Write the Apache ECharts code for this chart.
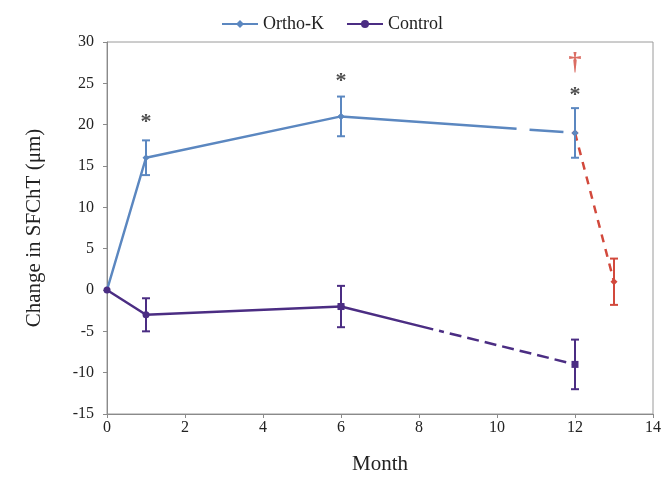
<!DOCTYPE html>
<html>
<head>
<meta charset="utf-8">
<script src="https://cdn.jsdelivr.net/npm/echarts@6/dist/echarts.min.js"></script>
<style>html,body{margin:0;padding:0;background:#fff}#c{width:664px;height:480px}</style>
</head>
<body>
<div id="c"></div>
<script>
// ---- data ----
var months = [0, 1, 6, 12];
var orthoK = [0, 16, 21, 19];
var orthoKErr = [0, 2.1, 2.4, 3];
var control = [0, -3, -2, -9];
var controlErr = [0, 2, 2.5, 3];
var washoutMonths = [12, 13];
var washout = [19, 1];
var washoutErr = [0, 2.8];
var starMonths = [1, 6, 12];
var starValues = [20.9, 25.8, 24.1];
var starText = ['*', '*', '*'];
var daggerMonths = [12];
var daggerValues = [27.7];
var daggerText = ['\u2020'];
var xTicks = [0, 2, 4, 6, 8, 10, 12, 14];
var yTicks = [-15, -10, -5, 0, 5, 10, 15, 20, 25, 30];

var BLUE = '#5b87c0', PURPLE = '#4b2d83', RED = '#d2493c';
var FONT = 'Liberation Serif';

function pts(xs, ys, from, to) {
  var out = [];
  for (var i = from; i <= to; i++) out.push([xs[i], ys[i]]);
  return out;
}
function errData(xs, ys, es) {
  var out = [];
  for (var i = 0; i < xs.length; i++) if (es[i] > 0) out.push([xs[i], ys[i] - es[i], ys[i] + es[i]]);
  return out;
}
function errSeries(data, color) {
  return {
    type: 'custom', data: data, z: 4, silent: true,
    renderItem: function (params, api) {
      var x = api.value(0);
      var lo = api.coord([x, api.value(1)]);
      var hi = api.coord([x, api.value(2)]);
      var w = 4;
      var st = { stroke: color, lineWidth: 2 };
      return { type: 'group', children: [
        { type: 'line', shape: { x1: lo[0], y1: lo[1], x2: hi[0], y2: hi[1] }, style: st },
        { type: 'line', shape: { x1: lo[0] - w, y1: lo[1], x2: lo[0] + w, y2: lo[1] }, style: st },
        { type: 'line', shape: { x1: hi[0] - w, y1: hi[1], x2: hi[0] + w, y2: hi[1] }, style: st }
      ] };
    }
  };
}
function labelSeries(xs, ys, texts, color, size, dy) {
  var d = [];
  for (var i = 0; i < xs.length; i++) d.push({ value: [xs[i], ys[i]], name: texts[i] });
  return {
    type: 'scatter', symbolSize: 0, silent: true, z: 6, data: d,
    label: { show: true, position: 'inside', formatter: '{b}', color: color, offset: [0, dy],
      fontFamily: FONT, fontSize: size, fontWeight: 'bold' }
  };
}

var chart = echarts.init(document.getElementById('c'));
chart.setOption({
  animation: false,
  backgroundColor: '#fff',
  grid: { left: 107, right: 10, top: 42, bottom: 66, show: true, borderColor: '#9a9a9a', borderWidth: 1 },
  legend: {
    top: 10, left: 'center', itemWidth: 36, itemHeight: 10, itemGap: 22,
    data: ['Ortho-K', 'Control'],
    textStyle: { fontFamily: FONT, fontSize: 18, color: '#222' }
  },
  xAxis: {
    type: 'value', min: xTicks[0], max: xTicks[xTicks.length - 1], interval: 2,
    name: 'Month', nameLocation: 'middle', nameGap: 40,
    nameTextStyle: { fontFamily: FONT, fontSize: 21, color: '#222' },
    axisLine: { onZero: false, lineStyle: { color: '#8a8a8a' } },
    axisTick: { show: true, length: 4, lineStyle: { color: '#8a8a8a' } },
    axisLabel: { fontFamily: FONT, fontSize: 16, color: '#222', margin: 6 },
    splitLine: { show: false }
  },
  yAxis: {
    type: 'value', min: yTicks[0], max: yTicks[yTicks.length - 1], interval: 5,
    name: 'Change in SFChT (\u03bcm)', nameLocation: 'middle', nameGap: 62,
    nameTextStyle: { fontFamily: FONT, fontSize: 21, color: '#222' },
    axisLine: { show: true, onZero: false, lineStyle: { color: '#8a8a8a' } },
    axisTick: { show: true, length: 4, lineStyle: { color: '#8a8a8a' } },
    axisLabel: { fontFamily: FONT, fontSize: 16, color: '#222', margin: 13 },
    splitLine: { show: false }
  },
  series: [
    errSeries(errData(months, orthoK, orthoKErr), BLUE),
    errSeries(errData(months, control, controlErr), PURPLE),
    errSeries(errData(washoutMonths, washout, washoutErr), RED),
    {
      name: 'Ortho-K', type: 'line', data: pts(months, orthoK, 0, 2), z: 3,
      color: BLUE, symbol: 'diamond', symbolSize: 7, showSymbol: true,
      lineStyle: { width: 2.5, color: BLUE }, itemStyle: { color: BLUE }
    },
    {
      name: 'OrthoK-dash', type: 'line', data: pts(months, orthoK, 2, 3), z: 3,
      symbol: 'diamond', symbolSize: 7, color: BLUE,
      lineStyle: { width: 2.5, color: BLUE, type: [176, 13, 34, 60] }, itemStyle: { color: BLUE }
    },
    {
      name: 'Control', type: 'line', data: pts(months, control, 0, 2), z: 3,
      color: PURPLE, symbol: 'circle', symbolSize: 7,
      lineStyle: { width: 2.5, color: PURPLE }, itemStyle: { color: PURPLE }
    },
    {
      name: 'Control-dash', type: 'line', data: pts(months, control, 2, 3), z: 3,
      symbol: 'rect', symbolSize: 7, color: PURPLE,
      lineStyle: { width: 2.5, color: PURPLE, type: [95, 6, 5, 6, 12, 6, 12, 6, 12, 6, 12, 6, 12, 6, 12, 6, 12, 6, 40] },
      itemStyle: { color: PURPLE }
    },
    {
      name: 'Washout', type: 'line', data: pts(washoutMonths, washout, 0, 1), z: 2,
      symbol: 'diamond', symbolSize: 7, color: RED,
      lineStyle: { width: 2.5, color: RED, type: [8, 7] }, itemStyle: { color: RED }
    },
    labelSeries(starMonths, starValues, starText, '#222', 22, 5),
    labelSeries(daggerMonths, daggerValues, daggerText, RED, 26, 2)
  ]
});
</script>
</body>
</html>
